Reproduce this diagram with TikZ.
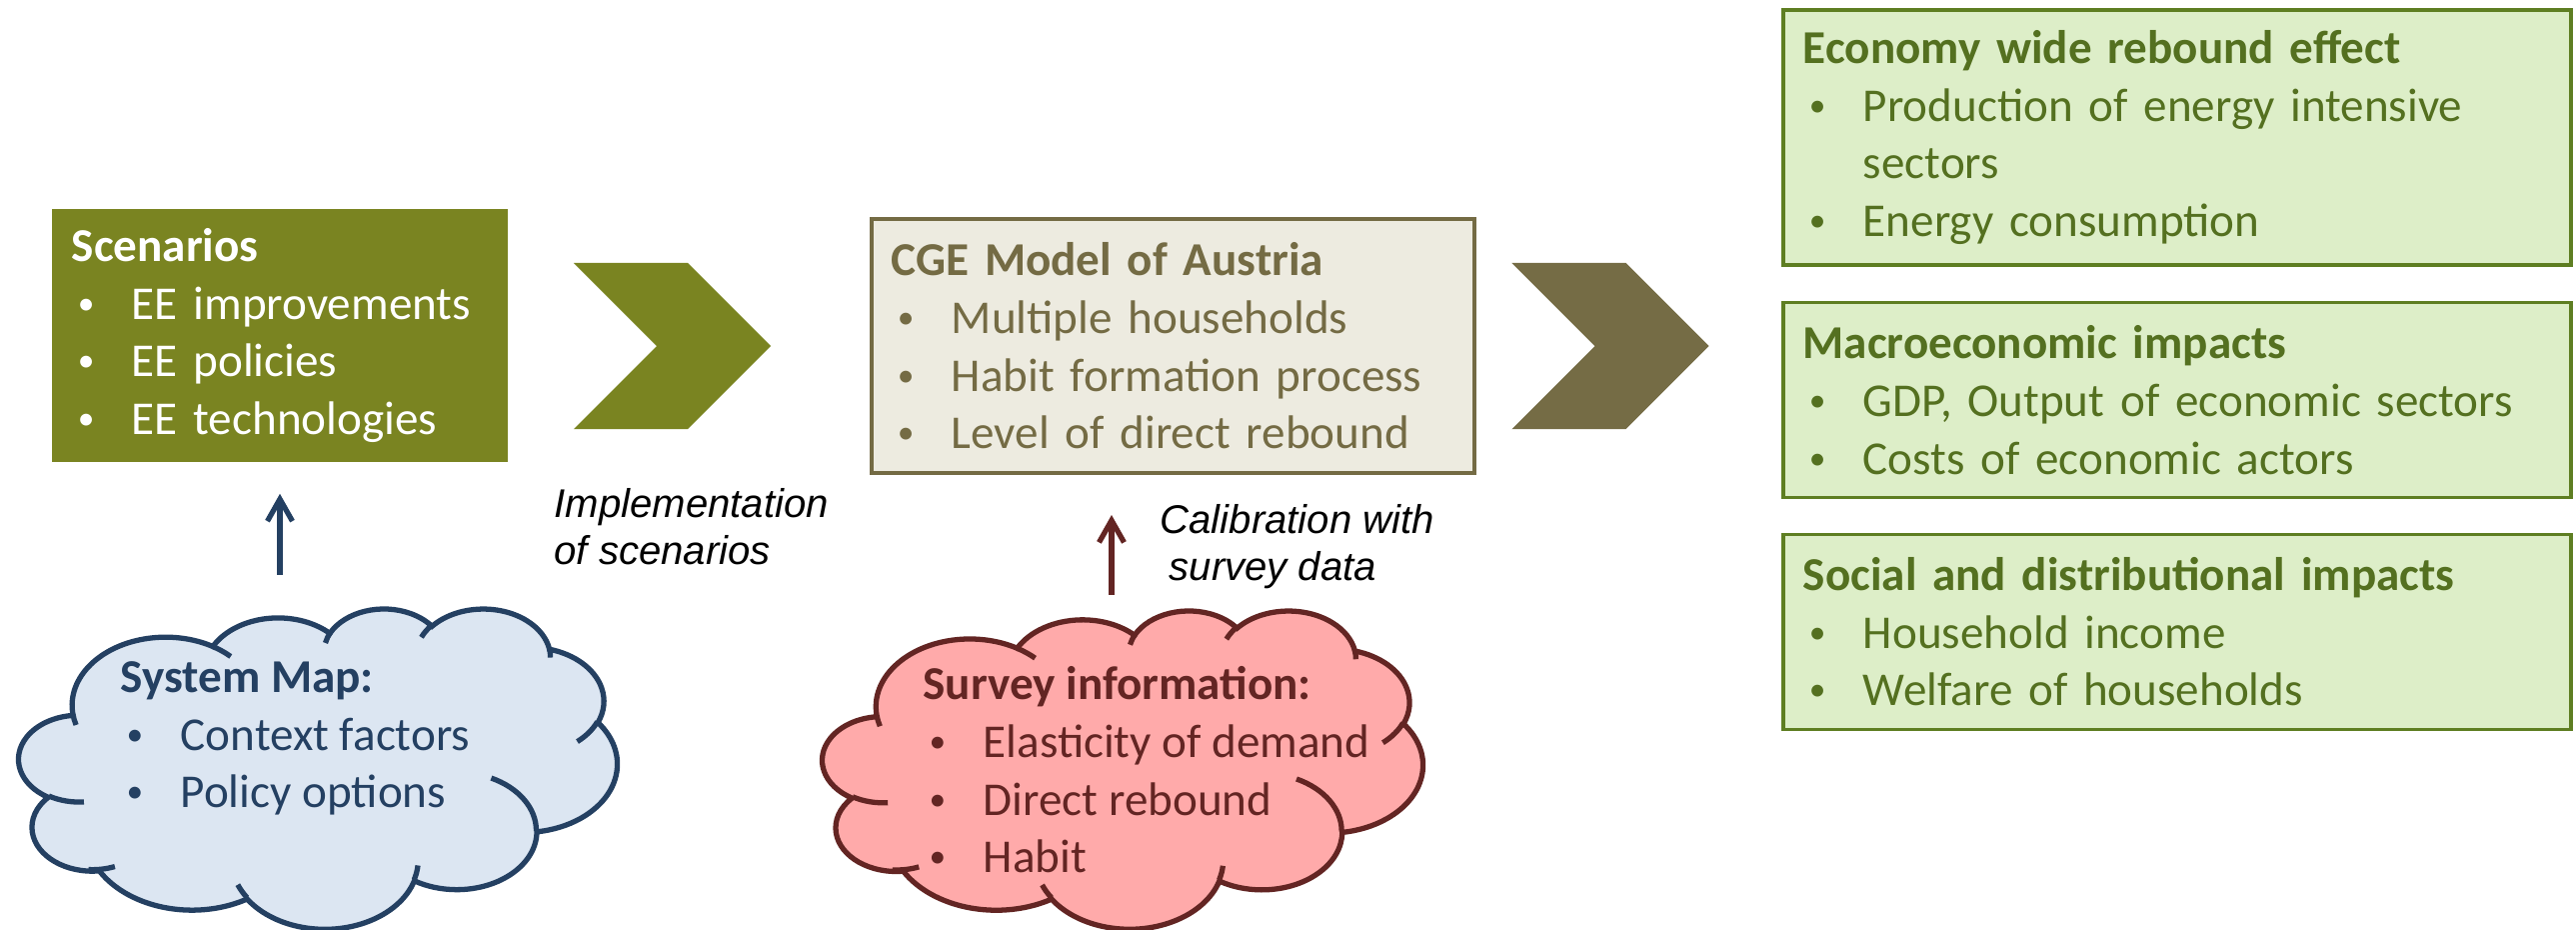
\documentclass[tikz,border=0pt]{standalone}
\usepackage{fontspec}
\setmainfont{Carlito}
\newfontfamily\labelfont{Liberation Sans}
\usetikzlibrary{positioning}
\usetikzlibrary{shapes.symbols}
\usetikzlibrary{arrows.meta}

\definecolor{scengreen}{RGB}{122,132,33}
\definecolor{cgeline}{RGB}{116,107,68}
\definecolor{cgefill}{RGB}{237,235,224}
\definecolor{chevbrown}{RGB}{117,108,69}
\definecolor{outline}{RGB}{94,126,34}
\definecolor{outtext}{RGB}{84,112,32}
\definecolor{outfill}{RGB}{221,238,200}
\definecolor{mapline}{RGB}{36,64,98}
\definecolor{mapfill}{RGB}{220,230,242}
\definecolor{survline}{RGB}{99,37,35}
\definecolor{survfill}{RGB}{255,170,170}

\newcommand{\bul}{\makebox[0.6cm][l]{\hspace{0.06cm}\raisebox{0.05cm}{\fontsize{9.5}{9}\selectfont\textbullet}}}
% elliptic arc, angles measured like in the office cloud (y down)
\newcommand{\puffarc}[4]{arc[x radius=#1cm,y radius=#2cm,
	start angle={-atan2(#1*sin(#3),#2*cos(#3))},
	delta angle={-mod(atan2(#1*sin(#3+#4),#2*cos(#3+#4))-atan2(#1*sin(#3),#2*cos(#3))+720,360)}]}
\newcommand{\officecloud}[2]{%
	\draw[#1,fill=#2] (390,1437) \puffarc{6.753}{9.190}{-190.4875}{123.7805}
	\puffarc{5.333}{7.267}{-144.1024}{89.9452} \puffarc{4.365}{5.945}{-145.8079}{99.7230}
	\puffarc{4.857}{6.595}{-130.9861}{117.2417} \puffarc{5.333}{7.273}{-78.7089}{109.0269}
	\puffarc{6.775}{9.220}{-46.2673}{130.2690} \puffarc{5.785}{7.867}{0.6250}{114.0333}
	\puffarc{6.752}{9.215}{22.4516}{115.1726} \puffarc{7.720}{10.543}{66.2426}{75.7110}
	\puffarc{4.360}{5.918}{-274.9421}{146.7356} \puffarc{4.345}{5.945}{-246.8285}{152.5189} -- cycle;
	\draw[#1] (469.3,2617.7) \puffarc{4.345}{5.945}{86.742}{26.4295}
	(692.8,3489.9) \puffarc{4.360}{5.918}{73.614}{19.144}
	(1647.8,3909.0) \puffarc{6.752}{9.215}{137.6242}{14.0811}
	(2882.7,3475.1) \puffarc{6.752}{9.215}{6.4533}{15.9984}
	(3412.9,2295.4) \puffarc{5.785}{7.867}{-70.2924}{70.9174}
	(4179.8,1535.4) \puffarc{5.333}{7.273}{30.3180}{27.7515}
	(3832.4,542.6) \puffarc{4.857}{6.595}{-13.7443}{14.8589}
	(2907.8,395.2) \puffarc{4.857}{6.595}{-149.1815}{18.1954}
	(2214.1,472.0) \puffarc{4.365}{5.945}{-163.4943}{17.6864}
	(1400.0,519.2) \puffarc{6.753}{9.190}{-66.7070}{12.3194}
	(412.7,1578.9) \puffarc{6.753}{9.190}{157.6544}{11.8582};}

\begin{document}
\begin{tikzpicture}[x=0.01cm,y=-0.01cm,>={Straight Barb[length=0.22cm,width=0.25cm]},
		font=\fontsize{13.4}{16.4}\selectfont]
		\tikzstyle{stage}=[rectangle,align=left,inner xsep=0.2cm,inner ysep=0pt]
		\tikzstyle{result}=[stage,draw=outline,fill=outfill,text=outtext,line width=1pt,
		minimum width=7.88cm,text width=7.48cm,minimum height=1.95cm]
		\tikzstyle{chevron}=[signal,signal to=east,signal from=west,signal pointer angle=90,
		minimum width=1.97cm,minimum height=1.66cm,inner sep=0pt]
		\tikzstyle{cloudtext}=[anchor=west,align=left,inner sep=0pt]
		\tikzstyle{note}=[font=\labelfont\itshape\fontsize{11.4}{13.3}\selectfont,
		align=left,anchor=west,inner sep=0pt]
		
		\useasboundingbox (0,0) rectangle (2577,930);
		
		\node[stage,fill=scengreen,text=white,minimum width=4.56cm,text width=4.16cm,
		minimum height=2.53cm] (scen) at (280,335.5)
		{\textbf{Scenarios}\\ \bul EE improvements\\ \bul EE policies\\ \bul EE technologies};
		\node[chevron,fill=scengreen] (impl) at (672.5,346) {};
		\node[stage,draw=cgeline,line width=1.1pt,fill=cgefill,text=cgeline,minimum width=6.03cm,
		text width=5.63cm,minimum height=2.54cm] (cge) at (1173.5,346)
		{\textbf{CGE Model of Austria}\\ \bul Multiple households\\ \bul Habit formation process\\
			\bul Level of direct rebound};
		\node[chevron,fill=chevbrown] (model) at (1611,346) {};
		
		\node[result,minimum height=2.55cm] (econ) at (2178,137.5)
		{\textbf{Economy wide rebound effect}\\ \bul Production of energy intensive\\
			\hspace*{0.6cm}sectors\\ \bul Energy consumption};
		\node[result,below=0.34cm of econ] (macro)
		{\textbf{Macroeconomic impacts}\\ \bul GDP, Output of economic sectors\\
			\bul Costs of economic actors};
		\node[result,below=0.33cm of macro] (social)
		{\textbf{Social and distributional impacts}\\ \bul Household income\\
			\bul Welfare of households};
		
		% clouds
		\begin{scope}[shift={(19,608)},xscale=0.13843,yscale=0.074074,line width=1.5pt]
			\officecloud{mapline}{mapfill}
			\coordinate (sysmap) at (2160,0);
		\end{scope}
		\node[cloudtext,text=mapline] (sysmaptxt) at (120,738.5)
		{\textbf{System Map:}\\ \bul Context factors\\ \bul Policy options};
		\begin{scope}[shift={(823,610)},xscale=0.13889,yscale=0.073611,line width=1.5pt]
			\officecloud{survline}{survfill}
			\coordinate (survey) at (2160,0);
		\end{scope}
		\node[cloudtext,text=survline] (surveytxt) at (923,770)
		{\textbf{Survey information:}\\ \bul Elasticity of demand\\ \bul Direct rebound\\ \bul Habit};
		
		\node[note] (impltxt) at (554,526.5) {Implementation\\of scenarios};
		\node[note] (calibtxt) at (1160,547) {Calibration with\\\hspace*{0.09cm}survey data};
		
		\draw[->,mapline,line width=1.5pt,shorten <=0.33cm,shorten >=0.31cm]
		(sysmap -| scen.south) -- (scen.south);
		\draw[->,survline,line width=1.5pt,shorten <=0.15cm,shorten >=0.4cm]
		([xshift=-0.11cm]survey) -- ([xshift=-0.11cm]survey |- cge.south);
\end{tikzpicture}
\end{document}
